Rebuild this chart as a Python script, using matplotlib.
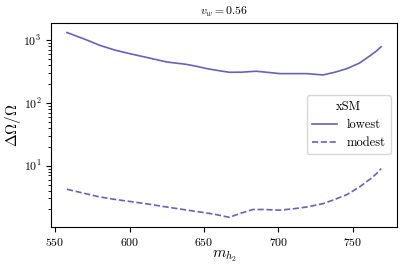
import numpy as np
import matplotlib
matplotlib.use("Agg")
from matplotlib import pyplot as plt

plt.rcParams['font.family'] = 'serif'
plt.rcParams['font.serif'] = ['cmr10']
plt.rcParams['mathtext.fontset'] = 'cm'
plt.rcParams['axes.formatter.use_mathtext'] = True

m_lowest = [558, 570, 580, 590, 600, 612, 625, 638, 645, 652, 660, 667, 675, 685, 693,
            701, 710, 719, 730, 738, 746, 754.5, 762, 766, 769]
lowest = [1330, 1040, 832, 700, 613, 530, 451, 414, 385, 353, 328, 309, 310, 321, 308,
          294, 294, 294, 280, 310, 353, 434, 577, 680, 790]

m_modest = [558, 570, 580, 590, 601, 612, 625, 636, 647, 657, 667, 675, 683, 690, 701,
            710, 719, 730, 738, 746, 754.5, 762, 766, 769]
modest = [4.2, 3.6, 3.17, 2.9, 2.67, 2.45, 2.19, 2.0, 1.83, 1.68, 1.50, 1.75, 2.0, 2.0, 1.95,
          2.05, 2.19, 2.48, 2.9, 3.46, 4.58, 6.2, 7.5, 9.0]

color = '#6a5fc1'

fig, ax = plt.subplots(figsize=(4.07, 2.71), dpi=100)
ax.plot(m_lowest, lowest, color=color, lw=1.2, label="lowest")
ax.plot(m_modest, modest, color=color, lw=1.2, ls='--', label="modest")
ax.set_yscale('log')
ax.set_title(r"$v_w = 0.56$", fontsize=8.5)
ax.set_xlabel(r"$m_{h_2}$", fontsize=11, labelpad=0)
ax.set_ylabel(r"$\Delta\Omega/\Omega$", fontsize=11, labelpad=0)
ax.tick_params(labelsize=8.5)
ax.legend(title="xSM", loc='center right', fontsize=9, title_fontsize=9)

fig.subplots_adjust(left=0.126, right=0.975, top=0.914, bottom=0.164)
fig.savefig("out.png", dpi=100)
